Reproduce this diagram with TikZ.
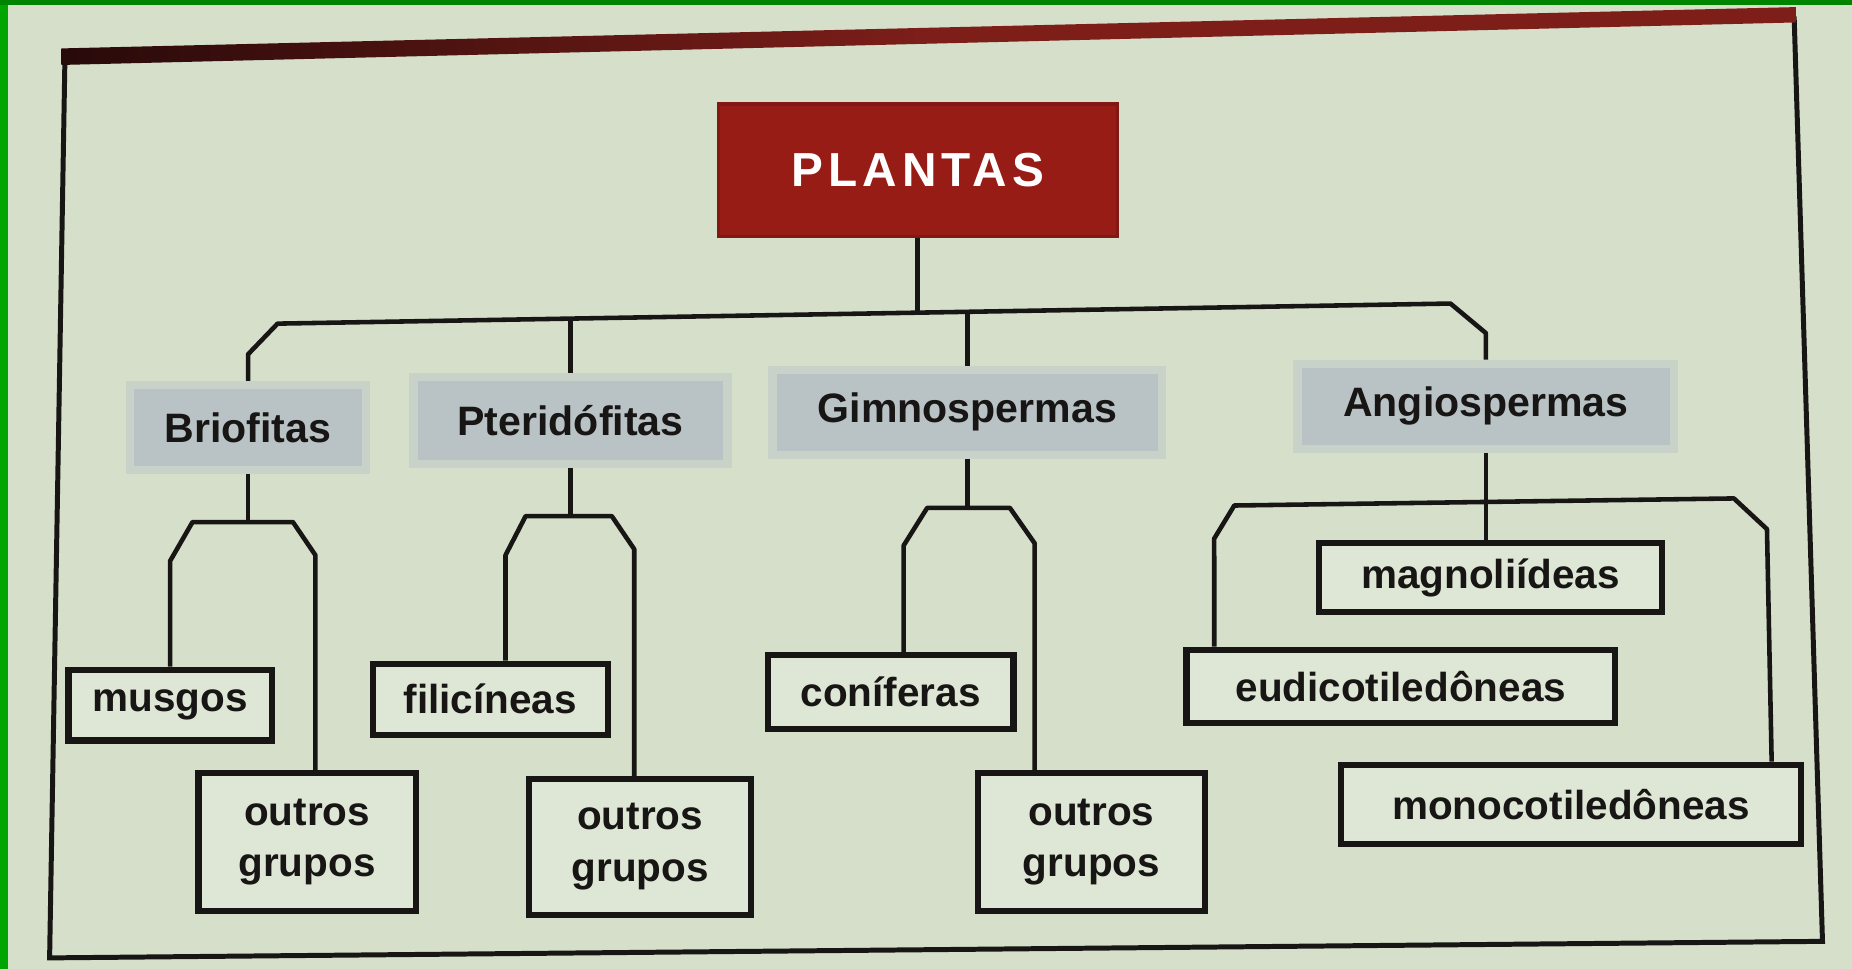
\documentclass[tikz,border=0pt]{standalone}
\usepackage{fontspec}
\setmainfont{Liberation Sans}
\usetikzlibrary{calc}
\definecolor{bg}{RGB}{213,223,202}
\definecolor{gframe}{RGB}{0,165,0}
\definecolor{ink}{RGB}{24,22,20}
\definecolor{catfill}{RGB}{185,195,198}
\definecolor{boxfill}{RGB}{222,230,214}
\definecolor{plantred}{RGB}{152,28,22}
\definecolor{topdark}{RGB}{40,10,10}
\definecolor{topred}{RGB}{125,30,25}
\begin{document}
\begin{tikzpicture}[x=0.02cm,y=-0.02cm,
  conn/.style={draw=ink, line width=2.2pt, line join=round},
  catbox/.style={fill=catfill, draw=catfill!45!bg, line width=4pt, inner sep=0pt,
    font=\fontsize{19.8}{24}\selectfont\bfseries, text=ink},
  subbox/.style={draw=ink, line width=3pt, fill=boxfill, inner sep=0pt,
    font=\fontsize{19.5}{25}\selectfont\bfseries, text=ink, align=center},
  rootbox/.style={fill=plantred, draw=plantred!85!black, line width=1.5pt, inner sep=0pt,
    text=white, font=\fontsize{23}{26}\selectfont\bfseries\addfontfeature{LetterSpace=11}}
]
\useasboundingbox (0,0) rectangle (1568,820);
\fill[bg] (0,0) rectangle (1568,820);
\fill[gframe] (0,0) rectangle (7,820);
\fill[gframe!80!black] (0,0) rectangle (1568,4);

% outer frame
\draw[ink, line width=2.4pt, line join=miter] (1519,14) -- (1543,797) -- (42,811) -- (55,48);
\shade[left color=topdark, right color=topred, middle color=topred] (52,41) -- (1521,6) -- (1521,19) -- (52,55) -- cycle;

% nodes
\node[rootbox, minimum width=6.76cm, minimum height=2.24cm] (plantas) at (777,144) {PLANTAS};

\node[catbox, minimum width=4.0cm, minimum height=1.44cm] (briof) at (210,362) {Briofitas};
\node[catbox, minimum width=5.32cm, minimum height=1.48cm] (pterid) at (483,356) {Pteridófitas};
\node[catbox, minimum width=6.6cm, minimum height=1.44cm] (gimno) at (819,349) {Gimnospermas};
\node[catbox, minimum width=6.38cm, minimum height=1.44cm] (angio) at (1258,344) {Angiospermas};

\node[subbox, minimum width=3.44cm, minimum height=1.2cm] (musgos) at (144,597) {musgos};
\node[subbox, minimum width=3.68cm, minimum height=2.34cm] (outrosA) at (260,713) {outros\\grupos};
\node[subbox, minimum width=3.98cm, minimum height=1.2cm] (filic) at (415,592) {filicíneas};
\node[subbox, minimum width=3.76cm, minimum height=2.3cm] (outrosB) at (542,717) {outros\\grupos};
\node[subbox, minimum width=4.16cm, minimum height=1.26cm] (conif) at (754,586) {coníferas};
\node[subbox, minimum width=3.84cm, minimum height=2.34cm] (outrosC) at (924,713) {outros\\grupos};
\node[subbox, minimum width=5.8cm, minimum height=1.16cm] (magno) at (1262,489) {magnoliídeas};
\node[subbox, minimum width=7.26cm, minimum height=1.24cm] (eudi) at (1186,581) {eudicotiledôneas};
\node[subbox, minimum width=7.8cm, minimum height=1.34cm] (mono) at (1330,681) {monocotiledôneas};

% main level connectors
\coordinate (rootjoin) at (777,265);
\draw[conn] (plantas.south) -- (rootjoin);
\draw[conn] (briof.north) -- (210,300) -- (235,274) -- (1228,257) -- (1258,282) -- (angio.north);
\draw[conn] (pterid.north) -- (483,270);
\draw[conn] (gimno.north) -- (819,264);

% Briofitas
\draw[conn] (briof.south) -- (210,442);
\draw[conn] (musgos.north) -- (144,475) -- (163,442) -- (248,442) -- (267,470) -- ([xshift=0.14cm]outrosA.north);
% Pteridofitas
\draw[conn] (pterid.south) -- (483,437);
\draw[conn] ([xshift=0.26cm]filic.north) -- (428,470) -- (445,437) -- (518,437) -- (537,465) -- ([xshift=-0.1cm]outrosB.north);
% Gimnospermas
\draw[conn] (gimno.south) -- (819,430);
\draw[conn] ([xshift=0.22cm]conif.north) -- (765,462) -- (785,430) -- (855,430) -- (876,460) -- ([xshift=-0.96cm]outrosC.north);
% Angiospermas
\draw[conn] (angio.south) -- (angio.south |- magno.north);
\draw[conn] ([xshift=-3.16cm]eudi.north) -- (1028,456) -- (1045,428) -- (1468,422) -- (1496,448) -- ([xshift=3.4cm]mono.north);
\end{tikzpicture}
\end{document}
